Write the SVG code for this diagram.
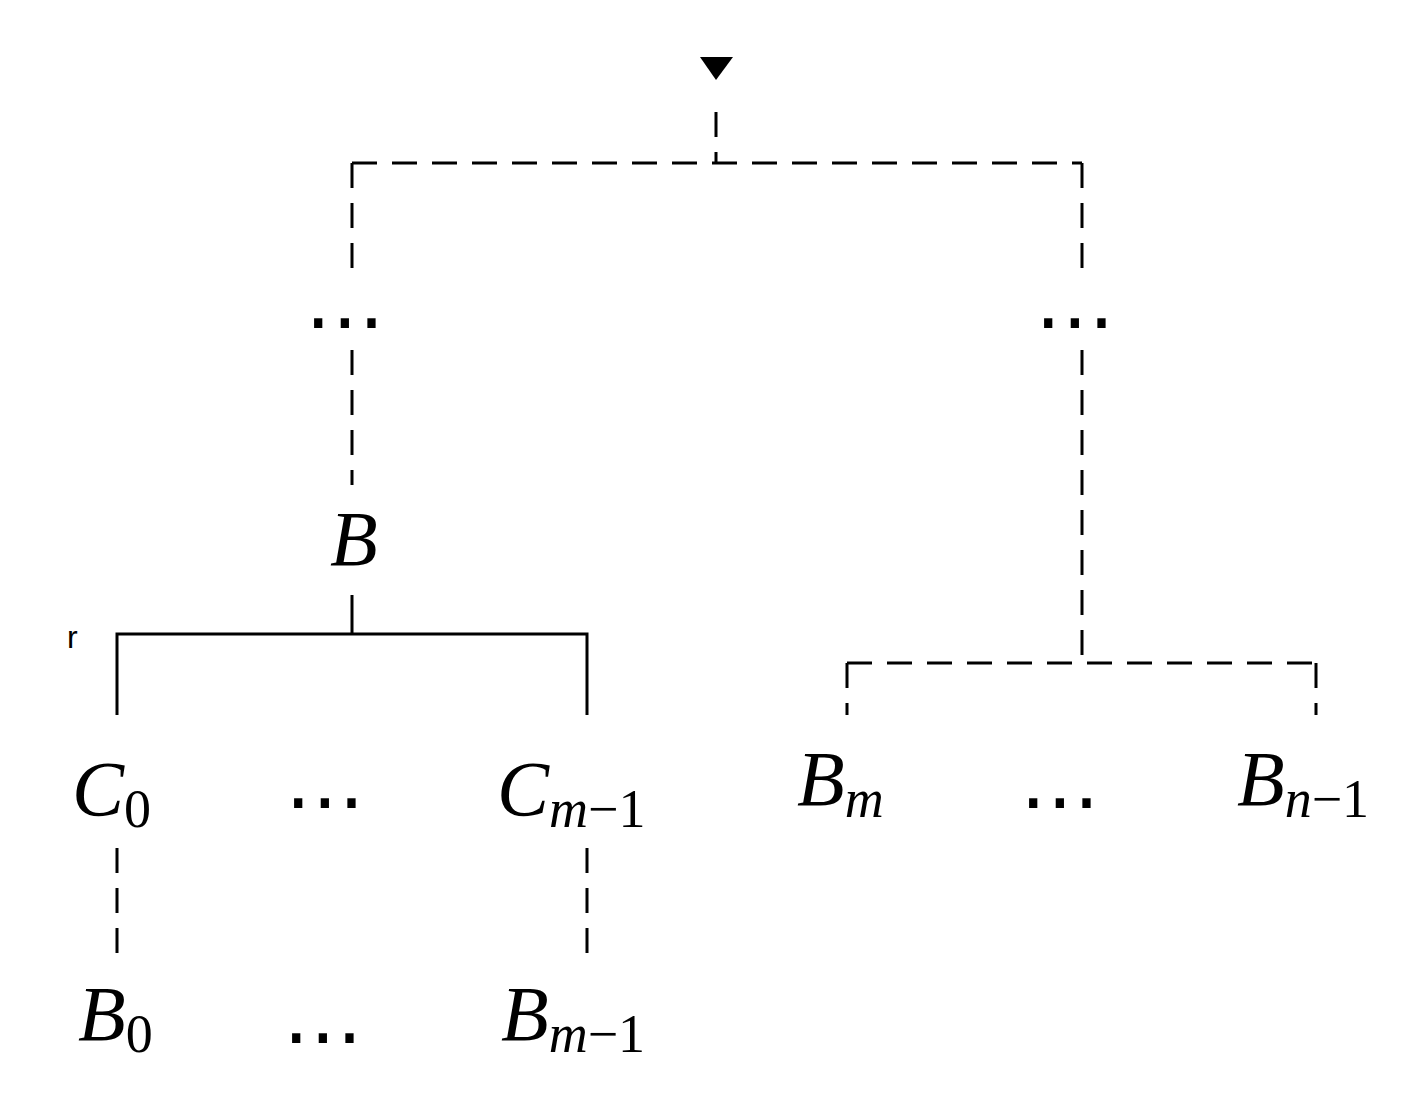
<svg xmlns="http://www.w3.org/2000/svg" width="1428" height="1095" viewBox="0 0 1428 1095">
<style>
.d{stroke:#000;stroke-width:3;fill:none;stroke-dasharray:25 15}
.s{stroke:#000;stroke-width:3;fill:none}
.m{font-family:"Liberation Serif",serif;font-style:italic;font-size:78px}
.sub{font-size:54px}
.n{font-style:normal}
.dots{font-family:"DejaVu Sans",sans-serif;font-size:80px;text-anchor:middle}
</style>
<rect width="1428" height="1095" fill="#fff"/>
<g id="connectors">
<polygon points="700,57 733,57 716,80" fill="#000"/>
<path class="d" d="M716,112V163M352,163H1082M352,163V280M352,350V485M1082,163V280M1082,350V663M847,663H1316M847,663V715M1316,663V715M117,848V955M587,848V955"/>
<path class="d" d="M352,595V633"/>
<path class="s" d="M117,715V634H587V715M352,634V620"/>
</g>
<g id="root-dots"><text class="dots" x="345" y="348">⋯</text><text class="dots" x="1075" y="348">⋯</text></g>
<g id="B"><text class="m" x="330" y="565">B</text></g>
<g id="r"><text x="67" y="648" font-family="Liberation Sans,sans-serif" font-size="32">r</text></g>
<g id="C0"><text class="m" x="72" y="815">C<tspan class="sub n" dy="12">0</tspan></text></g>
<g id="Cdots"><text class="dots" x="325" y="828">⋯</text></g>
<g id="Cm1"><text class="m" x="497" y="815">C<tspan class="sub" dy="12">m</tspan><tspan class="sub n">−1</tspan></text></g>
<g id="Bm"><text class="m" x="797" y="805">B<tspan class="sub" dy="12">m</tspan></text></g>
<g id="Bdots"><text class="dots" x="1060" y="828">⋯</text></g>
<g id="Bn1"><text class="m" x="1237" y="805">B<tspan class="sub" dy="12">n</tspan><tspan class="sub n">−1</tspan></text></g>
<g id="B0"><text class="m" x="78" y="1040">B<tspan class="sub n" dy="12">0</tspan></text></g>
<g id="B0dots"><text class="dots" x="323" y="1063">⋯</text></g>
<g id="Bm1"><text class="m" x="501" y="1040">B<tspan class="sub" dy="12">m</tspan><tspan class="sub n">−1</tspan></text></g>
</svg>
